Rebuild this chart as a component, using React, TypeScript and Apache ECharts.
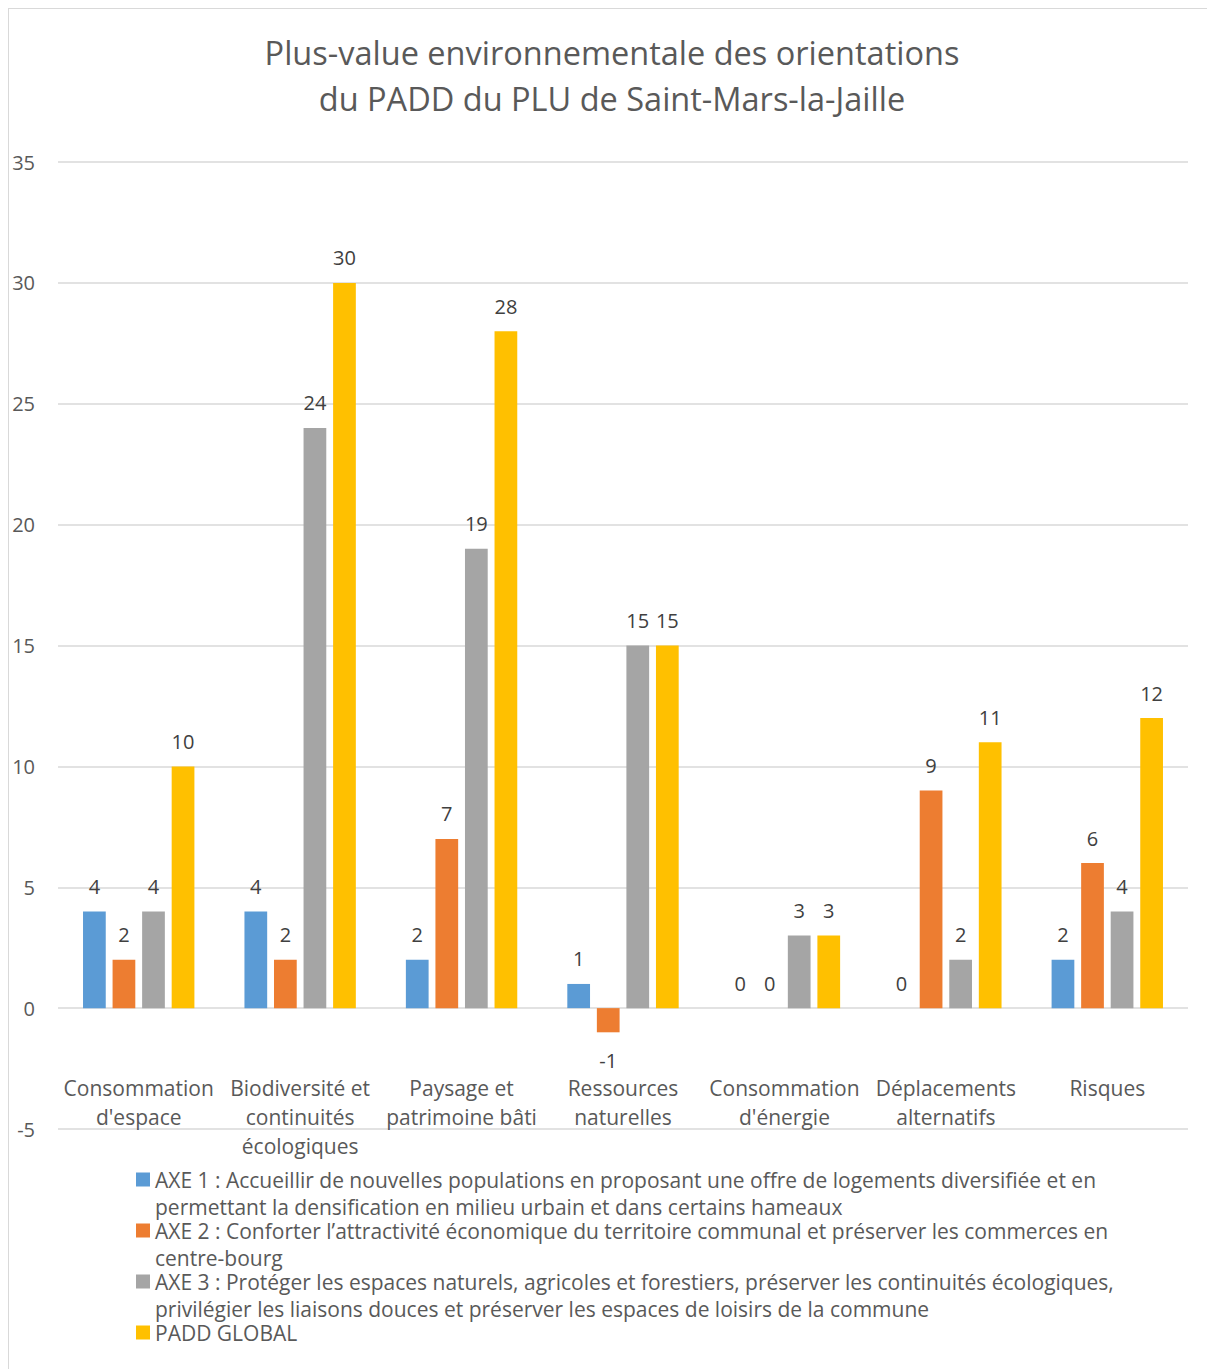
import React, { useEffect, useRef } from "react";
import * as echarts from "echarts";

const titleLines = [
  "Plus-value environnementale des orientations",
  "du PADD du PLU de Saint-Mars-la-Jaille",
];

const categories = [
  "Consommation d'espace",
  "Biodiversité et continuités écologiques",
  "Paysage et patrimoine bâti",
  "Ressources naturelles",
  "Consommation d'énergie",
  "Déplacements alternatifs",
  "Risques",
];

const categoryTickLabels = [
  "Consommation\nd'espace",
  "Biodiversité et\ncontinuités\nécologiques",
  "Paysage et\npatrimoine bâti",
  "Ressources\nnaturelles",
  "Consommation\nd'énergie",
  "Déplacements\nalternatifs",
  "Risques",
];

const seriesNames = [
  "AXE 1 : Accueillir de nouvelles populations en proposant une offre de logements diversifiée et en permettant la densification en milieu urbain et dans certains hameaux",
  "AXE 2 : Conforter l’attractivité économique du territoire communal et préserver les commerces en centre-bourg",
  "AXE 3 : Protéger les espaces naturels, agricoles et forestiers, préserver les continuités écologiques, privilégier les liaisons douces et préserver les espaces de loisirs de la commune",
  "PADD GLOBAL",
];

const legendLines = [
  [
    "AXE 1 : Accueillir de nouvelles populations en proposant une offre de logements diversifiée et en",
    "permettant la densification en milieu urbain et dans certains hameaux",
  ],
  [
    "AXE 2 : Conforter l’attractivité économique du territoire communal et préserver les commerces en",
    "centre-bourg",
  ],
  [
    "AXE 3 : Protéger les espaces naturels, agricoles et forestiers, préserver les continuités écologiques,",
    "privilégier les liaisons douces et préserver les espaces de loisirs de la commune",
  ],
  ["PADD GLOBAL", " "],
];

const axe1 = [4, 4, 2, 1, 0, 0, 2];
const axe2 = [2, 2, 7, -1, 0, 9, 6];
const axe3 = [4, 24, 19, 15, 3, 2, 4];
const paddGlobal = [10, 30, 28, 15, 3, 11, 12];

const seriesValues = [axe1, axe2, axe3, paddGlobal];
const colors = ["#5B9BD5", "#ED7D31", "#A5A5A5", "#FFC000"];

const yTicks = [-5, 0, 5, 10, 15, 20, 25, 30, 35];

const FONT = "'Open Sans', 'Noto Sans', sans-serif";

export default function App() {
  const ref = useRef<HTMLDivElement>(null);

  useEffect(() => {
    document.body.style.overflow = "hidden";
    if (!ref.current) return;
    const chart = echarts.init(ref.current, undefined, { renderer: "svg" });

    const series = seriesValues.map((vals, si) => ({
      name: seriesNames[si],
      type: "bar",
      barGap: "30%",
      barCategoryGap: "31%",
      itemStyle: { color: colors[si] },
      label: {
        show: true,
        position: "top",
        distance: 15,
        color: "#404040",
        fontSize: 20,
        fontFamily: FONT,
      },
      data: vals.map((v) =>
        v < 0
          ? { value: v, label: { position: "bottom", distance: 18 } }
          : { value: v }
      ),
    }));

    chart.setOption({
      animation: false,
      backgroundColor: "#ffffff",
      color: colors,
      textStyle: { fontFamily: FONT },
      title: {
        text: titleLines.join("\n"),
        left: 603,
        textAlign: "center",
        top: 20,
        padding: 0,
        textStyle: {
          fontFamily: FONT,
          fontSize: 32.5,
          fontWeight: "normal",
          color: "#595959",
          lineHeight: 46,
        },
      },
      legend: {
        orient: "vertical",
        left: 127,
        top: 1133,
        padding: 0,
        itemWidth: 14,
        itemHeight: 14,
        itemGap: -24,
        icon: "rect",
        selectedMode: false,
        data: seriesNames,
        formatter: (name: string) => {
          const lines = legendLines[seriesNames.indexOf(name)];
          return ["{t| }"].concat(lines.map((l) => "{t|" + l + "}")).join("\n");
        },
        textStyle: {
          fontFamily: FONT,
          fontSize: 21,
          color: "#595959",
          rich: {
            t: {
              fontFamily: FONT,
              fontSize: 21,
              color: "#595959",
              lineHeight: 27,
            },
          },
        },
      },
      grid: {
        left: 49,
        right: 27,
        top: 153,
        bottom: 280,
        containLabel: false,
      },
      xAxis: {
        type: "category",
        position: "bottom",
        data: categories,
        axisTick: { show: false },
        axisLine: { show: false, onZero: false },
        axisLabel: {
          interval: 0,
          margin: -55.5,
          fontSize: 21,
          lineHeight: 29,
          color: "#595959",
          fontFamily: FONT,
          formatter: (_v: string, i: number) => categoryTickLabels[i],
        },
        splitLine: { show: false },
      },
      yAxis: {
        type: "value",
        min: yTicks[0],
        max: yTicks[yTicks.length - 1],
        interval: 5,
        axisLine: { show: false },
        axisTick: { show: false },
        axisLabel: {
          margin: 23,
          fontSize: 20,
          color: "#595959",
          fontFamily: FONT,
        },
        splitLine: { lineStyle: { color: "#d9d9d9", width: 1.5 } },
      },
      series,
    });

    return () => chart.dispose();
  }, []);

  return (
    <div
      style={{
        width: 1206,
        height: 1400,
        borderTop: "1px solid #d9d9d9",
        borderLeft: "1px solid #d9d9d9",
        background: "#fff",
      }}
    >
      <div ref={ref} style={{ width: 1206, height: 1400 }} />
    </div>
  );
}
